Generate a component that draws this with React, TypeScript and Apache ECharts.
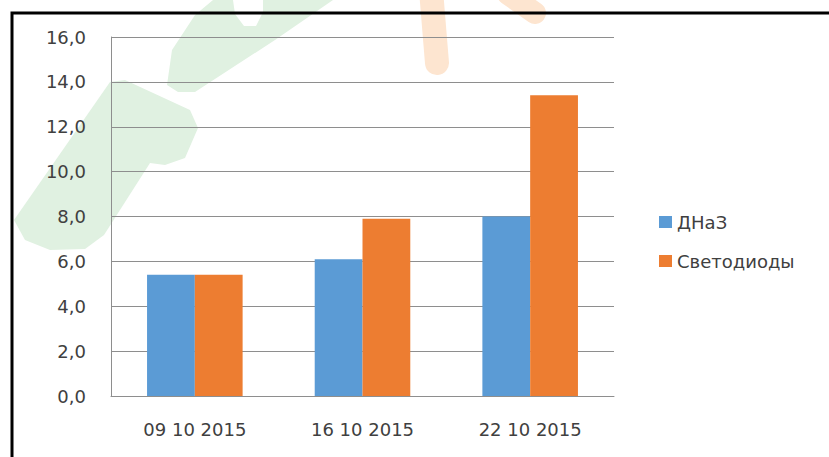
import React, { useEffect, useRef } from "react";
import * as echarts from "echarts";

const categories = ["09 10 2015", "16 10 2015", "22 10 2015"];
const seriesNames = ["ДНаЗ", "Светодиоды"];
const dnazValues = [5.4, 6.1, 8.0];
const ledValues = [5.4, 7.9, 13.4];
const yMin = 0;
const yMax = 16;
const yStep = 2;

const FONT = "DejaVu Sans";
const TEXT = "#404040";
const GRID = "#8e8e8e";
const GREEN = "#e0f1e1";
const ORANGE = "#fde5d0";

export default function App() {
  const ref = useRef<HTMLDivElement>(null);
  useEffect(() => {
    const chart = echarts.init(ref.current!, null, { renderer: "svg" });
    chart.setOption({
      animation: false,
      backgroundColor: "#ffffff",
      color: ["#5B9BD5", "#ED7D31"],
      graphic: [
        // faint watermark
        {
          type: "polygon", z: -5,
          shape: { points: [[14, 220], [110, 82], [125, 80], [190, 110], [198, 128], [185, 158], [165, 165], [150, 163], [104, 235], [85, 249], [50, 250], [25, 240]] },
          style: { fill: GREEN },
        },
        {
          type: "polygon", z: -5,
          shape: { points: [[167, 85], [172, 50], [195, 15], [213, 0], [233, 0], [235, 14], [244, 26], [256, 26], [263, 12], [263, 0], [333, 0], [275, 40], [195, 92], [178, 92]] },
          style: { fill: GREEN },
        },
        { type: "line", z: -5, shape: { x1: 431, y1: -10, x2: 437, y2: 63 }, style: { stroke: ORANGE, lineWidth: 24, lineCap: "round" } },
        { type: "line", z: -5, shape: { x1: 508, y1: -6, x2: 535, y2: 13 }, style: { stroke: ORANGE, lineWidth: 22, lineCap: "round" } },
        // frame
        { type: "rect", z: 10, shape: { x: 12, y: 13, width: 900, height: 500 }, style: { fill: "none", stroke: "#000000", lineWidth: 3 } },
      ],
      grid: { left: 111, right: 215, top: 37, bottom: 61, containLabel: false },
      legend: {
        orient: "vertical",
        left: 654,
        top: 208,
        icon: "rect",
        itemWidth: 13,
        itemHeight: 12,
        itemGap: 21,
        data: seriesNames,
        textStyle: { color: TEXT, fontFamily: FONT, fontSize: 18 },
      },
      xAxis: {
        type: "category",
        data: categories,
        axisLine: { show: true, lineStyle: { color: GRID, width: 1 } },
        axisTick: { show: false },
        axisLabel: { color: TEXT, fontFamily: FONT, fontSize: 18, margin: 24 },
      },
      yAxis: {
        type: "value",
        min: yMin,
        max: yMax,
        interval: yStep,
        axisLine: { show: true, lineStyle: { color: GRID, width: 1 } },
        axisTick: { show: false },
        splitLine: { show: true, lineStyle: { color: GRID, width: 1 } },
        axisLabel: {
          color: TEXT,
          fontFamily: FONT,
          fontSize: 18,
          margin: 25,
          formatter: (v: number) => v.toFixed(1).replace(".", ","),
        },
      },
      series: [
        { name: seriesNames[0], type: "bar", data: dnazValues, barGap: "0%", barCategoryGap: "43%" },
        { name: seriesNames[1], type: "bar", data: ledValues, barGap: "0%", barCategoryGap: "43%" },
      ],
    });
    return () => chart.dispose();
  }, []);
  return <div ref={ref} style={{ position: "fixed", left: 0, top: 0, width: 829, height: 457 }} />;
}
